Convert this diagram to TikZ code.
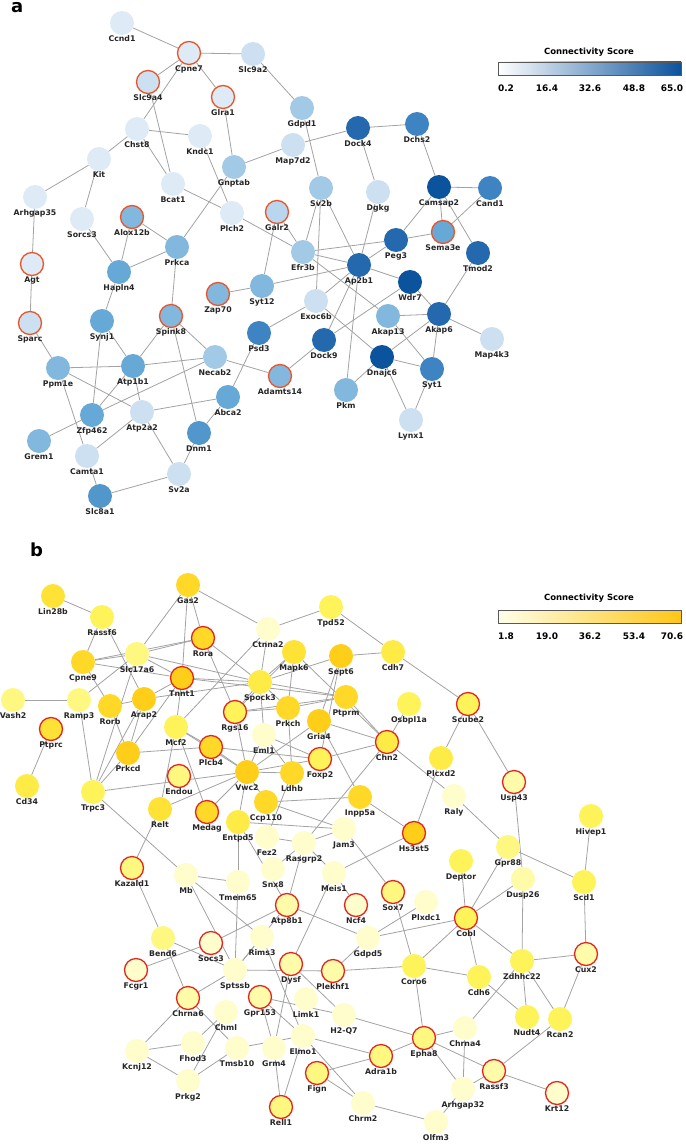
\documentclass[tikz,border=0pt]{standalone}
\usepackage{fontspec}
\setmainfont{DejaVu Sans}
\usetikzlibrary{backgrounds}
\definecolor{A0}{HTML}{DEEBF7}
\definecolor{A1}{HTML}{CCE0F2}
\definecolor{A2}{HTML}{B9D6EE}
\definecolor{A3}{HTML}{A2C9E6}
\definecolor{A4}{HTML}{82B8DD}
\definecolor{A5}{HTML}{66A8D6}
\definecolor{A6}{HTML}{5197CB}
\definecolor{A7}{HTML}{3E84C2}
\definecolor{A8}{HTML}{2468AE}
\definecolor{A9}{HTML}{0B539D}
\definecolor{B0}{HTML}{FFFDCB}
\definecolor{B1}{HTML}{FFFBA8}
\definecolor{B2}{HTML}{FFF880}
\definecolor{B3}{HTML}{FFF35A}
\definecolor{B4}{HTML}{FFEB45}
\definecolor{B5}{HTML}{FFE236}
\definecolor{B6}{HTML}{FFD828}
\definecolor{B7}{HTML}{FFCE18}
\definecolor{redA}{HTML}{E8552A}
\definecolor{redB}{HTML}{E2261E}
\definecolor{edgec}{HTML}{A3A3A3}
\definecolor{labc}{HTML}{262626}
\tikzset{
  nd/.style={circle,minimum size=24pt,inner sep=0pt,draw=none,label distance=2.5pt},
  rda/.style={draw=redA,line width=1.3pt,minimum size=23pt},
  rdb/.style={draw=redB,line width=1.3pt,minimum size=23pt},
  lbl/.style={font=\bfseries\fontsize{7.8}{8}\selectfont,text=labc,inner sep=0pt},
  edge/.style={draw=edgec,line width=0.8pt},
  legt/.style={font=\bfseries\fontsize{8.5}{10}\selectfont,inner sep=0pt},
  legn/.style={font=\bfseries\fontsize{9}{10}\selectfont,inner sep=0pt},
  panel/.style={font=\bfseries\fontsize{18}{20}\selectfont,inner sep=0pt,anchor=base west}
}
\newcommand\NN[5]{\node[nd,fill=#4,label={[lbl]below:#5}] (#1) at (#2,#3) {};}
\newcommand\NA[5]{\node[nd,rda,fill=#4,label={[lbl]below:#5}] (#1) at (#2,#3) {};}
\newcommand\NB[5]{\node[nd,rdb,fill=#4,label={[lbl]below:#5}] (#1) at (#2,#3) {};}
\begin{document}
\begin{tikzpicture}[x=1pt,y=-1pt]
\useasboundingbox (0,0) rectangle (685,1145);
\node[panel] (pa) at (11,13) {a};
\node[panel] (pb) at (30,556) {b};
% legend a
\node[legt] (lta) at (589,52) {Connectivity Score};
\shade[left color=white,middle color=A4,right color=A9] (498,62) rectangle (681,75);
\draw[draw=black!65,line width=0.8pt] (498,62) rectangle (681,75);
\node[legn] (la1) at (506,88) {0.2};
\node[legn] (la2) at (547,88) {16.4};
\node[legn] (la3) at (590,88) {32.6};
\node[legn] (la4) at (634,88) {48.8};
\node[legn] (la5) at (672,88) {65.0};
% legend b
\node[legt] (ltb) at (589,598) {Connectivity Score};
\shade[left color=yellow!8,middle color=B3,right color=B7!90!orange] (498,610) rectangle (681,623);
\draw[draw=black!65,line width=0.8pt] (498,610) rectangle (681,623);
\node[legn] (lb1) at (506,636) {1.8};
\node[legn] (lb2) at (547,636) {19.0};
\node[legn] (lb3) at (590,636) {36.2};
\node[legn] (lb4) at (634,636) {53.4};
\node[legn] (lb5) at (672,636) {70.6};
% ---------- panel a nodes
\NN{ccnd1}{122}{23}{A0}{Ccnd1}
\NA{cpne7}{189}{53}{A0}{Cpne7}
\NN{slc9a2}{253}{54}{A1}{Slc9a2}
\NA{slc9a4}{148}{82}{A1}{Slc9a4}
\NA{glra1}{223}{97}{A0}{Glra1}
\NN{gdpd1}{302}{108}{A3}{Gdpd1}
\NN{dock4}{358}{128}{A8}{Dock4}
\NN{dchs2}{417}{124}{A7}{Dchs2}
\NN{chst8}{137}{129}{A0}{Chst8}
\NN{kndc1}{200}{136}{A0}{Kndc1}
\NN{map7d2}{293}{145}{A1}{Map7d2}
\NN{kit}{99}{159}{A0}{Kit}
\NN{gnptab}{234}{167}{A3}{Gnptab}
\NN{bcat1}{173}{184}{A0}{Bcat1}
\NN{sv2b}{321}{188}{A3}{Sv2b}
\NN{dgkg}{378}{192}{A1}{Dgkg}
\NN{camsap2}{439}{187}{A9}{Camsap2}
\NN{cand1}{490}{188}{A7}{Cand1}
\NN{arhgap35}{35}{197}{A0}{Arhgap35}
\NA{galr2}{277}{212}{A2}{Galr2}
\NN{plch2}{232}{213}{A0}{Plch2}
\NN{sorcs3}{82}{219}{A0}{Sorcs3}
\NA{alox12b}{132}{217}{A4}{Alox12b}
\NA{sema3e}{443}{232}{A5}{Sema3e}
\NN{peg3}{396}{240}{A8}{Peg3}
\NN{prkca}{177}{247}{A4}{Prkca}
\NN{efr3b}{303}{252}{A3}{Efr3b}
\NN{tmod2}{478}{253}{A8}{Tmod2}
\NA{agt}{32}{264}{A0}{Agt}
\NN{ap2b1}{359}{265}{A8}{Ap2b1}
\NN{hapln4}{119}{272}{A5}{Hapln4}
\NN{wdr7}{410}{282}{A9}{Wdr7}
\NN{syt12}{262}{286}{A4}{Syt12}
\NA{zap70}{218}{294}{A4}{Zap70}
\NN{exoc6b}{316}{301}{A1}{Exoc6b}
\NN{akap6}{439}{314}{A8}{Akap6}
\NN{akap13}{388}{316}{A4}{Akap13}
\NA{spink8}{171}{316}{A4}{Spink8}
\NN{synj1}{102}{321}{A5}{Synj1}
\NA{sparc}{30}{323}{A1}{Sparc}
\NN{psd3}{259}{333}{A7}{Psd3}
\NN{map4k3}{492}{339}{A1}{Map4k3}
\NN{dock9}{324}{340}{A8}{Dock9}
\NN{dnajc6}{382}{357}{A9}{Dnajc6}
\NN{necab2}{215}{357}{A3}{Necab2}
\NN{atp1b1}{133}{366}{A5}{Atp1b1}
\NN{ppm1e}{58}{368}{A4}{Ppm1e}
\NN{syt1}{432}{369}{A7}{Syt1}
\NA{adamts14}{280}{376}{A4}{Adamts14}
\NN{pkm}{346}{390}{A4}{Pkm}
\NN{abca2}{228}{397}{A5}{Abca2}
\NN{atp2a2}{142}{412}{A1}{Atp2a2}
\NN{zfp462}{92}{415}{A5}{Zfp462}
\NN{lynx1}{411}{420}{A1}{Lynx1}
\NN{dnm1}{199}{433}{A6}{Dnm1}
\NN{grem1}{39}{441}{A4}{Grem1}
\NN{camta1}{87}{456}{A1}{Camta1}
\NN{sv2a}{179}{474}{A1}{Sv2a}
\NN{slc8a1}{100}{496}{A6}{Slc8a1}
% ---------- panel b nodes
\NN{gas2}{188}{585}{B6}{Gas2}
\NN{lin28b}{53}{596}{B5}{Lin28b}
\NN{tpd52}{331}{607}{B3}{Tpd52}
\NN{rassf6}{102}{617}{B3}{Rassf6}
\NN{ctnna2}{268}{629}{B0}{Ctnna2}
\NB{rora}{203}{638}{B6}{Rora}
\NN{mapk6}{294}{652}{B5}{Mapk6}
\NN{slc17a6}{137}{654}{B2}{Slc17a6}
\NN{sept6}{341}{656}{B7}{Sept6}
\NN{cdh7}{393}{652}{B4}{Cdh7}
\NN{cpne9}{83}{662}{B6}{Cpne9}
\NB{tnnt1}{182}{678}{B7}{Tnnt1}
\NN{spock3}{260}{682}{B4}{Spock3}
\NN{ptprm}{346}{697}{B6}{Ptprm}
\NN{arap2}{144}{699}{B7}{Arap2}
\NN{vash2}{13}{700}{B2}{Vash2}
\NN{ramp3}{79}{700}{B2}{Ramp3}
\NN{osbpl1a}{409}{704}{B3}{Osbpl1a}
\NB{scube2}{468}{704}{B3}{Scube2}
\NN{rorb}{110}{706}{B6}{Rorb}
\NN{prkch}{288}{708}{B6}{Prkch}
\NB{rgs16}{235}{712}{B3}{Rgs16}
\NN{gria4}{319}{721}{B7}{Gria4}
\NN{mcf2}{176}{727}{B3}{Mcf2}
\NB{ptprc}{51}{729}{B5}{Ptprc}
\NN{eml1}{264}{735}{B0}{Eml1}
\NB{chn2}{387}{742}{B4}{Chn2}
\NB{plcb4}{211}{747}{B6}{Plcb4}
\NN{prkcd}{128}{753}{B7}{Prkcd}
\NN{plcxd2}{441}{758}{B4}{Plcxd2}
\NB{foxp2}{320}{759}{B3}{Foxp2}
\NN{vwc2}{247}{772}{B7}{Vwc2}
\NN{ldhb}{292}{773}{B6}{Ldhb}
\NB{endou}{179}{776}{B2}{Endou}
\NB{usp43}{514}{782}{B1}{Usp43}
\NN{cd34}{27}{786}{B4}{Cd34}
\NN{trpc3}{93}{792}{B3}{Trpc3}
\NN{raly}{454}{796}{B0}{Raly}
\NN{inpp5a}{360}{797}{B6}{Inpp5a}
\NN{ccp110}{266}{802}{B6}{Ccp110}
\NN{relt}{160}{809}{B5}{Relt}
\NB{medag}{207}{812}{B6}{Medag}
\NN{hivep1}{591}{816}{B3}{Hivep1}
\NN{entpd5}{238}{822}{B4}{Entpd5}
\NN{jam3}{344}{829}{B0}{Jam3}
\NB{hs3st5}{414}{833}{B7}{Hs3st5}
\NN{fez2}{267}{837}{B0}{Fez2}
\NN{rasgrp2}{304}{843}{B0}{Rasgrp2}
\NN{gpr88}{508}{847}{B2}{Gpr88}
\NN{deptor}{461}{861}{B3}{Deptor}
\NB{kazald1}{132}{868}{B2}{Kazald1}
\NN{snx8}{273}{869}{B0}{Snx8}
\NN{meis1}{334}{873}{B0}{Meis1}
\NN{mb}{186}{875}{B0}{Mb}
\NN{dusp26}{523}{879}{B1}{Dusp26}
\NN{tmem65}{238}{882}{B0}{Tmem65}
\NN{scd1}{584}{882}{B3}{Scd1}
\NB{sox7}{393}{892}{B2}{Sox7}
\NN{plxdc1}{426}{902}{B0}{Plxdc1}
\NB{atp8b1}{287}{905}{B1}{Atp8b1}
\NB{ncf4}{356}{905}{B0}{Ncf4}
\NB{cobl}{466}{918}{B3}{Cobl}
\NN{rims3}{262}{937}{B0}{Rims3}
\NN{gdpd5}{368}{938}{B0}{Gdpd5}
\NN{bend6}{163}{938}{B2}{Bend6}
\NB{socs3}{211}{943}{B0}{Socs3}
\NB{cux2}{586}{954}{B1}{Cux2}
\NN{zdhhc22}{522}{961}{B3}{Zdhhc22}
\NB{dysf}{291}{964}{B1}{Dysf}
\NN{coro6}{414}{966}{B3}{Coro6}
\NB{fcgr1}{136}{970}{B0}{Fcgr1}
\NN{sptssb}{235}{970}{B0}{Sptssb}
\NB{plekhf1}{333}{971}{B1}{Plekhf1}
\NN{cdh6}{479}{977}{B3}{Cdh6}
\NB{gpr153}{260}{997}{B1}{Gpr153}
\NB{chrna6}{188}{998}{B1}{Chrna6}
\NN{limk1}{306}{999}{B0}{Limk1}
\NN{chml}{226}{1012}{B0}{Chml}
\NN{h2q7}{344}{1015}{B0}{H2-Q7}
\NN{nudt4}{527}{1017}{B3}{Nudt4}
\NN{rcan2}{560}{1019}{B3}{Rcan2}
\NN{chrna4}{465}{1028}{B0}{Chrna4}
\NN{elmo1}{303}{1036}{B0}{Elmo1}
\NB{epha8}{424}{1038}{B2}{Epha8}
\NN{fhod3}{193}{1043}{B0}{Fhod3}
\NN{tmsb10}{237}{1048}{B0}{Tmsb10}
\NN{grm4}{274}{1048}{B0}{Grm4}
\NN{kcnj12}{137}{1051}{B0}{Kcnj12}
\NB{adra1b}{381}{1056}{B2}{Adra1b}
\NB{rassf3}{494}{1071}{B1}{Rassf3}
\NB{fign}{317}{1073}{B2}{Fign}
\NN{prkg2}{188}{1081}{B0}{Prkg2}
\NN{arhgap32}{463}{1089}{B0}{Arhgap32}
\NB{krt12}{557}{1093}{B0}{Krt12}
\NN{chrm2}{363}{1103}{B0}{Chrm2}
\NB{rell1}{281}{1107}{B2}{Rell1}
\NN{olfm3}{436}{1122}{B0}{Olfm3}
% ---------- edges
\begin{scope}[on background layer]
\fill[white] (0,0) rectangle (685,1145);
\foreach \a/\b in {ccnd1/cpne7,cpne7/slc9a2,cpne7/slc9a4,cpne7/glra1,cpne7/chst8,slc9a4/bcat1,chst8/kndc1,chst8/kit,chst8/bcat1,kndc1/plch2,glra1/gnptab,kit/arhgap35,kit/sorcs3,bcat1/plch2,gnptab/prkca,arhgap35/agt,sorcs3/hapln4,alox12b/hapln4,alox12b/prkca,prkca/hapln4,slc9a2/gdpd1,gdpd1/sv2b,map7d2/gnptab,map7d2/dock4,dock4/dchs2,dock4/dgkg,dchs2/camsap2,camsap2/cand1,camsap2/peg3,camsap2/sema3e,camsap2/tmod2,cand1/sema3e,dgkg/ap2b1,sv2b/efr3b,sv2b/ap2b1,sv2b/exoc6b,plch2/efr3b,galr2/efr3b,galr2/syt12,efr3b/peg3,peg3/sema3e,peg3/ap2b1,efr3b/ap2b1,efr3b/akap13,ap2b1/wdr7,ap2b1/exoc6b,ap2b1/dock9,ap2b1/pkm,ap2b1/syt12,wdr7/dock9,wdr7/akap6,akap6/tmod2,akap6/map4k3,akap6/akap13,akap6/dnajc6,akap6/syt1,akap13/syt1,exoc6b/dnajc6,exoc6b/psd3,dnajc6/syt1,dnajc6/pkm,dnajc6/lynx1,syt1/lynx1,dock9/adamts14,psd3/abca2,zap70/syt12,necab2/adamts14,spink8/prkca,spink8/atp1b1,spink8/necab2,spink8/dnm1,synj1/hapln4,synj1/atp1b1,synj1/zfp462,sparc/agt,sparc/ppm1e,ppm1e/atp1b1,ppm1e/atp2a2,ppm1e/camta1,atp1b1/necab2,atp1b1/zfp462,atp1b1/atp2a2,necab2/zfp462,atp2a2/abca2,atp2a2/camta1,atp2a2/sv2a,zfp462/grem1,abca2/dnm1,dnm1/sv2a,sv2a/slc8a1,camta1/slc8a1}
  \draw[edge] (\a) -- (\b);
\foreach \a/\b in {lin28b/rassf6,rassf6/cpne9,rassf6/arap2,gas2/slc17a6,gas2/tnnt1,gas2/rora,gas2/ctnna2,cpne9/slc17a6,cpne9/rora,slc17a6/rora,slc17a6/tnnt1,cpne9/tnnt1,cpne9/rorb,slc17a6/ramp3,slc17a6/trpc3,slc17a6/spock3,vash2/ramp3,ramp3/trpc3,rorb/arap2,rorb/prkcd,arap2/trpc3,arap2/prkcd,arap2/tnnt1,arap2/spock3,tnnt1/mcf2,tnnt1/prkcd,tnnt1/spock3,tnnt1/ptprm,rora/rgs16,rora/spock3,mcf2/plcb4,mcf2/medag,mcf2/relt,mcf2/ctnna2,mcf2/vwc2,prkcd/plcb4,prkcd/trpc3,ptprc/cd34,trpc3/vwc2,trpc3/mb,relt/kazald1,relt/vwc2,medag/vwc2,plcb4/vwc2,plcb4/foxp2,ctnna2/tpd52,tpd52/cdh7,cdh7/sept6,cdh7/scube2,ctnna2/spock3,mapk6/spock3,mapk6/prkch,mapk6/chn2,mapk6/rgs16,spock3/sept6,spock3/rgs16,spock3/prkch,spock3/ptprm,spock3/eml1,sept6/gria4,sept6/foxp2,ptprm/chn2,rgs16/ptprm,rgs16/prkch,prkch/ptprm,prkch/ldhb,gria4/chn2,gria4/vwc2,gria4/inpp5a,osbpl1a/chn2,chn2/foxp2,chn2/raly,chn2/rasgrp2,eml1/ldhb,eml1/foxp2,eml1/vwc2,vwc2/foxp2,vwc2/ldhb,vwc2/entpd5,vwc2/ccp110,rgs16/vwc2,ccp110/inpp5a,ccp110/jam3,entpd5/jam3,ldhb/fez2,inpp5a/hs3st5,plcxd2/scube2,plcxd2/hs3st5,raly/gpr88,scube2/usp43,usp43/dusp26,hivep1/scd1}
  \draw[edge] (\a) -- (\b);
\foreach \a/\b in {gpr88/cobl,gpr88/scd1,dusp26/cobl,dusp26/zdhhc22,deptor/cobl,cobl/zdhhc22,cobl/cdh6,cobl/gdpd5,cobl/coro6,cdh6/nudt4,cdh6/coro6,zdhhc22/cux2,zdhhc22/nudt4,zdhhc22/rcan2,zdhhc22/chrna4,cux2/rcan2,cux2/scd1,rcan2/rassf3,rassf3/krt12,rassf3/arhgap32,chrna4/arhgap32,epha8/rassf3,arhgap32/olfm3,epha8/chrna4,epha8/arhgap32,entpd5/tmem65,entpd5/atp8b1,fez2/rasgrp2,rasgrp2/snx8,rasgrp2/meis1,rasgrp2/jam3,rasgrp2/atp8b1,jam3/sox7,hs3st5/meis1,meis1/ncf4,meis1/dysf,sox7/coro6,plxdc1/gdpd5,gdpd5/atp8b1,gdpd5/plekhf1,atp8b1/socs3,atp8b1/sptssb,rims3/sptssb,mb/rims3,mb/tmem65,mb/sptssb,tmem65/sptssb,sptssb/plekhf1,dysf/h2q7,dysf/grm4,plekhf1/coro6,coro6/epha8,gpr153/h2q7,gpr153/grm4,gpr153/elmo1,h2q7/epha8,elmo1/adra1b,elmo1/chrm2,elmo1/rell1,elmo1/tmsb10,fign/adra1b,fign/chrm2,grm4/rell1,chrm2/olfm3,adra1b/epha8,rims3/elmo1,sptssb/chrna6,chml/prkg2,chml/fhod3,chrna6/tmsb10,chrna6/kcnj12,chrna6/bend6,bend6/kazald1,bend6/sptssb,fcgr1/socs3,kcnj12/fhod3,kcnj12/prkg2,prkg2/tmsb10}
  \draw[edge] (\a) -- (\b);
\end{scope}
\end{tikzpicture}
\end{document}
